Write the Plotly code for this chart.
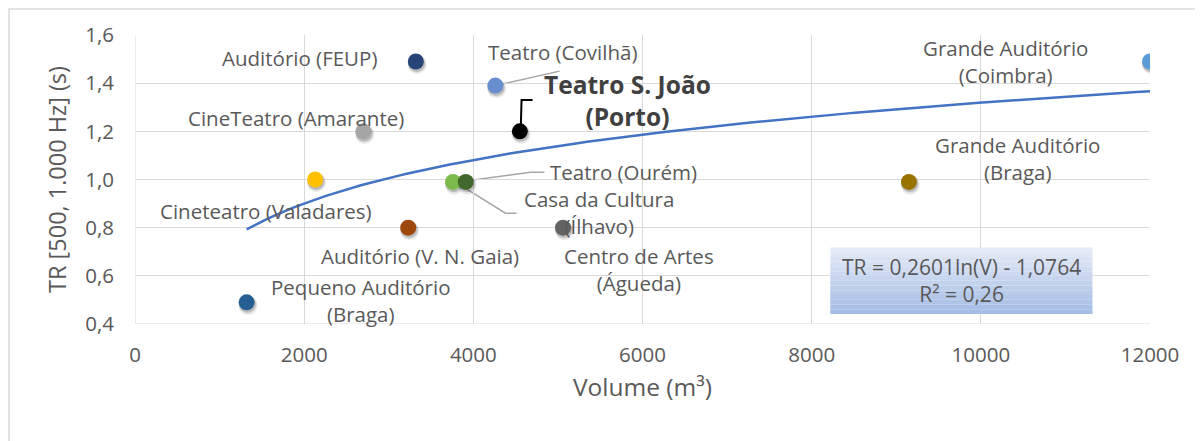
import plotly.graph_objects as go
import numpy as np

# data
salas = ["Pequeno Auditório<br>(Braga)", "Cineteatro (Valadares)", "CineTeatro (Amarante)",
         "Auditório (FEUP)", "Auditório (V. N. Gaia)", "Casa da Cultura<br>(Ílhavo)",
         "Teatro (Ourém)", "Teatro (Covilhã)", "Teatro S. João<br>(Porto)",
         "Centro de Artes<br>(Águeda)", "Grande Auditório<br>(Braga)", "Grande Auditório<br>(Coimbra)"]
volume = [1320, 2130, 2700, 3320, 3230, 3760, 3910, 4260, 4550, 5060, 9150, 12000]
tr = [0.49, 1.00, 1.20, 1.49, 0.80, 0.99, 0.99, 1.39, 1.20, 0.80, 0.99, 1.49]
cores = ["#255E91", "#FFC000", "#A5A5A5", "#264478", "#9E480E", "#7CBB4A",
         "#43682B", "#698ED0", "#000000", "#636363", "#997300", "#5B9BD5"]

# label positions (data coords)
label_x = [2670, 1550, 1900, 1950, 3370, 5490, 5780, 5050, 5820, 5960, 10430, 10290]
label_y = [0.496, 0.869, 1.255, 1.504, 0.682, 0.861, 1.031, 1.529, 1.33, 0.628, 1.089, 1.488]

# trendline coefficients shown on the chart
coef_a = 0.2601
coef_b = -1.0764
r2 = 0.26

FONT = "Open Sans"
GREY = "#595959"

fig = go.Figure()

vx = np.linspace(min(volume), max(volume), 200)
fig.add_trace(go.Scatter(x=vx, y=coef_a * np.log(vx) + coef_b, mode="lines",
                         line=dict(color="#4472C4", width=2.5), hoverinfo="skip"))

# soft marker shadows
fig.add_trace(go.Scatter(x=[v + 15 for v in volume], y=[t - 0.012 for t in tr], mode="markers",
                         marker=dict(size=19, color="rgba(0,0,0,0.10)"), hoverinfo="skip"))
fig.add_trace(go.Scatter(x=[v + 10 for v in volume], y=[t - 0.008 for t in tr], mode="markers",
                         marker=dict(size=17, color="rgba(0,0,0,0.18)"), hoverinfo="skip"))
fig.add_trace(go.Scatter(x=volume, y=tr, mode="markers",
                         marker=dict(size=16, color=cores, line=dict(width=0)),
                         text=salas, hoverinfo="text+x+y"))

for i, s in enumerate(salas):
    bold = "Porto" in s
    fig.add_annotation(x=label_x[i], y=label_y[i], text=f"<b>{s}</b>" if bold else s,
                       showarrow=False, xref="x", yref="y",
                       font=dict(family=FONT, size=24.5 if bold else 20.5,
                                 color="#404040" if bold else GREY))

# leader lines
def leader(pts, color="#A6A6A6", width=1.5):
    path = "M " + " L ".join(f"{x},{y}" for x, y in pts)
    fig.add_shape(type="path", path=path, xref="x", yref="y",
                  line=dict(color=color, width=width), layer="below")

leader([(4260, 1.39), (5020, 1.45)])
leader([(3930, 0.995), (4680, 1.03), (4840, 1.03)])
leader([(3760, 0.995), (4380, 0.86), (4510, 0.86)])
leader([(4560, 1.2), (4570, 1.33), (4700, 1.33)], color="#000000", width=2)

# equation box with vertical gradient
bx0, bx1, by0, by1 = 8220, 11320, 0.442, 0.718
n = 14
c0 = np.array([0xE4, 0xEB, 0xF7])
c1 = np.array([0xA6, 0xBD, 0xE5])
for k in range(n):
    c = (c0 + (c1 - c0) * k / (n - 1)).astype(int)
    ya = by1 - (by1 - by0) * k / n
    yb = by1 - (by1 - by0) * (k + 1) / n
    fig.add_shape(type="rect", xref="x", yref="y", x0=bx0, x1=bx1, y0=yb, y1=ya,
                  fillcolor=f"rgb({c[0]},{c[1]},{c[2]})", line=dict(width=0), layer="above")
fig.add_annotation(x=(bx0 + bx1) / 2, y=(by0 + by1) / 2,
                   text=f"TR = {coef_a:.4f}ln(V) - {-coef_b:.4f}<br>R² = {r2:.2f}".replace(".", ","),
                   showarrow=False, font=dict(family=FONT, size=21, color=GREY))

# outer chart border (page body adds an 8px offset)
fig.add_shape(type="rect", xref="paper", yref="paper", x0=-0.1241, x1=1.2, y0=-0.5, y1=1.09,
              line=dict(color="#D9D9D9", width=1.5), fillcolor="rgba(0,0,0,0)")

fig.update_layout(
    width=1195, height=433,
    margin=dict(l=127, r=53, t=27, b=117),
    paper_bgcolor="white", plot_bgcolor="white",
    showlegend=False, separators=",.",
    font=dict(family=FONT, color=GREY),
    xaxis=dict(range=[0, 12000], dtick=2000, tickformat="d", showgrid=True, automargin=False,
               gridcolor="#D9D9D9", gridwidth=1, zeroline=False, showline=False,
               tickfont=dict(size=20.5, color=GREY), ticks="", ticklabelstandoff=16,
               title=dict(text="Volume (m³)", font=dict(size=24.5, color=GREY), standoff=12)),
    yaxis=dict(range=[0.4, 1.6], dtick=0.2, tickformat=".1f", showgrid=True, automargin=False,
               gridcolor="#D9D9D9", gridwidth=1, zeroline=False, showline=False,
               tickfont=dict(size=20.5, color=GREY), ticks="", ticklabelstandoff=20,
               title=dict(text="TR [500, 1.000 Hz] (s)", font=dict(size=23.5, color=GREY), standoff=12)),
)
fig.add_vline(x=0, line=dict(color="#D9D9D9", width=1), layer="below")
fig.add_hline(y=0.4, line=dict(color="#D9D9D9", width=1), layer="below")

fig.write_html("out.html")
